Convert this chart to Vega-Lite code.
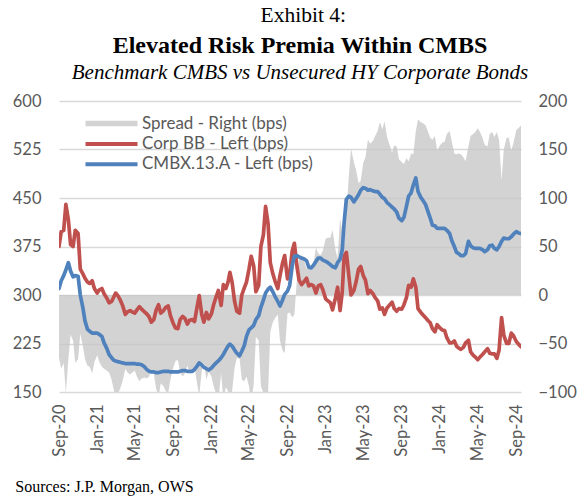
{
  "$schema": "https://vega.github.io/schema/vega-lite/v6.json",
  "background": "white",
  "padding": {"left": 12, "top": 4, "right": 4, "bottom": 2},
  "config": {
    "view": {"stroke": null},
    "font": "Lato",
    "concat": {"spacing": 0},
    "legend": {
      "orient": "none", "legendX": 60, "legendY": 14, "title": null, "padding": 0,
      "symbolType": "M-4.2,0H1", "symbolSize": 400, "labelLimit": 0,
      "labelFont": "Lato", "labelFontSize": 17, "labelColor": "#595959", "labelOffset": 6, "rowPadding": 2.4,
      "symbolStrokeWidth": 4
    }
  },
  "title": {"text": "Sources: J.P. Morgan, OWS", "orient": "bottom", "anchor": "start", "font": "Liberation Serif", "fontSize": 16, "fontWeight": "normal", "color": "#000000", "offset": 18, "dx": 3},
  "vconcat": [
    {
      "title": {"text": "Exhibit 4:", "font": "Liberation Serif", "fontSize": 21.5, "fontWeight": "normal", "color": "#000000", "anchor": "middle", "offset": 8, "dx": 9},
      "vconcat": [
        {
          "width": 462,
          "height": 291,
          "title": {
            "text": "Elevated Risk Premia Within CMBS",
            "subtitle": "Benchmark CMBS vs Unsecured HY Corporate Bonds",
            "font": "Liberation Serif", "fontSize": 24, "fontWeight": "bold", "color": "#000000",
            "subtitleFont": "Liberation Serif", "subtitleFontSize": 21, "subtitleFontStyle": "italic", "subtitleColor": "#000000",
            "subtitlePadding": 4, "anchor": "middle", "offset": 10, "dx": 10
          },
          "data": {"values": [
            {"date":"2020-09-01","cmbx":310,"corp":375,"spread":-65},
            {"date":"2020-09-08","cmbx":322,"corp":398,"spread":-76},
            {"date":"2020-09-16","cmbx":330,"corp":400,"spread":-70},
            {"date":"2020-09-23","cmbx":339,"corp":440,"spread":-101},
            {"date":"2020-10-01","cmbx":350,"corp":416,"spread":-66},
            {"date":"2020-10-08","cmbx":337,"corp":378,"spread":-41},
            {"date":"2020-10-16","cmbx":328,"corp":375,"spread":-47},
            {"date":"2020-10-23","cmbx":330,"corp":400,"spread":-70},
            {"date":"2020-11-01","cmbx":329,"corp":395,"spread":-66},
            {"date":"2020-11-08","cmbx":300,"corp":340,"spread":-40},
            {"date":"2020-11-16","cmbx":281,"corp":333,"spread":-52},
            {"date":"2020-11-23","cmbx":260,"corp":326,"spread":-66},
            {"date":"2020-12-01","cmbx":247,"corp":320,"spread":-73},
            {"date":"2020-12-08","cmbx":244,"corp":318,"spread":-74},
            {"date":"2020-12-16","cmbx":241,"corp":322,"spread":-81},
            {"date":"2020-12-23","cmbx":241,"corp":310,"spread":-69},
            {"date":"2021-01-01","cmbx":241,"corp":303,"spread":-62},
            {"date":"2021-01-08","cmbx":239,"corp":308,"spread":-69},
            {"date":"2021-01-16","cmbx":236,"corp":310,"spread":-74},
            {"date":"2021-01-23","cmbx":226,"corp":302,"spread":-76},
            {"date":"2021-02-01","cmbx":217,"corp":295,"spread":-78},
            {"date":"2021-02-08","cmbx":208,"corp":288,"spread":-80},
            {"date":"2021-02-16","cmbx":203,"corp":290,"spread":-87},
            {"date":"2021-02-23","cmbx":199,"corp":297,"spread":-98},
            {"date":"2021-03-01","cmbx":198,"corp":303,"spread":-105},
            {"date":"2021-03-08","cmbx":197,"corp":299,"spread":-102},
            {"date":"2021-03-16","cmbx":196,"corp":292,"spread":-96},
            {"date":"2021-03-23","cmbx":195,"corp":284,"spread":-89},
            {"date":"2021-04-01","cmbx":194,"corp":270,"spread":-76},
            {"date":"2021-04-08","cmbx":194,"corp":274,"spread":-80},
            {"date":"2021-04-16","cmbx":194,"corp":276,"spread":-82},
            {"date":"2021-04-23","cmbx":194,"corp":274,"spread":-80},
            {"date":"2021-05-01","cmbx":194,"corp":272,"spread":-78},
            {"date":"2021-05-08","cmbx":193,"corp":277,"spread":-84},
            {"date":"2021-05-16","cmbx":193,"corp":282,"spread":-89},
            {"date":"2021-05-23","cmbx":192,"corp":278,"spread":-86},
            {"date":"2021-06-01","cmbx":189,"corp":274,"spread":-85},
            {"date":"2021-06-08","cmbx":185,"corp":271,"spread":-86},
            {"date":"2021-06-16","cmbx":182,"corp":266,"spread":-84},
            {"date":"2021-06-23","cmbx":181,"corp":258,"spread":-77},
            {"date":"2021-07-01","cmbx":181,"corp":262,"spread":-81},
            {"date":"2021-07-08","cmbx":180,"corp":276,"spread":-96},
            {"date":"2021-07-16","cmbx":180,"corp":285,"spread":-105},
            {"date":"2021-07-23","cmbx":181,"corp":272,"spread":-91},
            {"date":"2021-08-01","cmbx":182,"corp":276,"spread":-94},
            {"date":"2021-08-08","cmbx":182,"corp":281,"spread":-99},
            {"date":"2021-08-16","cmbx":182,"corp":283,"spread":-101},
            {"date":"2021-08-23","cmbx":181,"corp":268,"spread":-87},
            {"date":"2021-09-01","cmbx":181,"corp":256,"spread":-75},
            {"date":"2021-09-08","cmbx":181,"corp":249,"spread":-68},
            {"date":"2021-09-16","cmbx":181,"corp":248,"spread":-67},
            {"date":"2021-09-23","cmbx":182,"corp":262,"spread":-80},
            {"date":"2021-10-01","cmbx":183,"corp":267,"spread":-84},
            {"date":"2021-10-08","cmbx":183,"corp":264,"spread":-81},
            {"date":"2021-10-16","cmbx":182,"corp":255,"spread":-73},
            {"date":"2021-10-23","cmbx":182,"corp":261,"spread":-79},
            {"date":"2021-11-01","cmbx":182,"corp":262,"spread":-80},
            {"date":"2021-11-08","cmbx":185,"corp":259,"spread":-74},
            {"date":"2021-11-16","cmbx":190,"corp":281,"spread":-91},
            {"date":"2021-11-23","cmbx":195,"corp":299,"spread":-104},
            {"date":"2021-12-01","cmbx":192,"corp":270,"spread":-78},
            {"date":"2021-12-08","cmbx":188,"corp":258,"spread":-70},
            {"date":"2021-12-16","cmbx":186,"corp":273,"spread":-87},
            {"date":"2021-12-23","cmbx":184,"corp":263,"spread":-79},
            {"date":"2022-01-01","cmbx":187,"corp":271,"spread":-84},
            {"date":"2022-01-08","cmbx":191,"corp":285,"spread":-94},
            {"date":"2022-01-16","cmbx":195,"corp":297,"spread":-102},
            {"date":"2022-01-23","cmbx":198,"corp":307,"spread":-109},
            {"date":"2022-02-01","cmbx":203,"corp":284,"spread":-81},
            {"date":"2022-02-08","cmbx":208,"corp":316,"spread":-108},
            {"date":"2022-02-16","cmbx":215,"corp":310,"spread":-95},
            {"date":"2022-02-23","cmbx":221,"corp":320,"spread":-99},
            {"date":"2022-03-01","cmbx":224,"corp":335,"spread":-111},
            {"date":"2022-03-08","cmbx":221,"corp":320,"spread":-99},
            {"date":"2022-03-16","cmbx":215,"corp":290,"spread":-75},
            {"date":"2022-03-23","cmbx":210,"corp":275,"spread":-65},
            {"date":"2022-04-01","cmbx":206,"corp":272,"spread":-66},
            {"date":"2022-04-08","cmbx":213,"corp":300,"spread":-87},
            {"date":"2022-04-16","cmbx":222,"corp":311,"spread":-89},
            {"date":"2022-04-23","cmbx":236,"corp":320,"spread":-84},
            {"date":"2022-05-01","cmbx":246,"corp":340,"spread":-94},
            {"date":"2022-05-08","cmbx":249,"corp":360,"spread":-111},
            {"date":"2022-05-16","cmbx":253,"corp":345,"spread":-92},
            {"date":"2022-05-23","cmbx":262,"corp":305,"spread":-43},
            {"date":"2022-06-01","cmbx":268,"corp":315,"spread":-47},
            {"date":"2022-06-08","cmbx":281,"corp":375,"spread":-94},
            {"date":"2022-06-16","cmbx":292,"corp":393,"spread":-101},
            {"date":"2022-06-23","cmbx":303,"corp":437,"spread":-134},
            {"date":"2022-07-01","cmbx":309,"corp":410,"spread":-101},
            {"date":"2022-07-08","cmbx":312,"corp":350,"spread":-38},
            {"date":"2022-07-16","cmbx":305,"corp":333,"spread":-28},
            {"date":"2022-07-23","cmbx":298,"corp":322,"spread":-24},
            {"date":"2022-08-01","cmbx":290,"corp":310,"spread":-20},
            {"date":"2022-08-08","cmbx":283,"corp":330,"spread":-47},
            {"date":"2022-08-16","cmbx":292,"corp":349,"spread":-57},
            {"date":"2022-08-23","cmbx":301,"corp":361,"spread":-60},
            {"date":"2022-09-01","cmbx":306,"corp":325,"spread":-19},
            {"date":"2022-09-08","cmbx":315,"corp":333,"spread":-18},
            {"date":"2022-09-16","cmbx":345,"corp":368,"spread":-23},
            {"date":"2022-09-23","cmbx":360,"corp":380,"spread":-20},
            {"date":"2022-10-01","cmbx":361,"corp":345,"spread":16},
            {"date":"2022-10-08","cmbx":359,"corp":323,"spread":36},
            {"date":"2022-10-16","cmbx":357,"corp":316,"spread":41},
            {"date":"2022-10-23","cmbx":356,"corp":320,"spread":36},
            {"date":"2022-11-01","cmbx":353,"corp":326,"spread":27},
            {"date":"2022-11-08","cmbx":343,"corp":314,"spread":29},
            {"date":"2022-11-16","cmbx":342,"corp":316,"spread":26},
            {"date":"2022-11-23","cmbx":346,"corp":314,"spread":32},
            {"date":"2022-12-01","cmbx":352,"corp":303,"spread":49},
            {"date":"2022-12-08","cmbx":357,"corp":314,"spread":43},
            {"date":"2022-12-16","cmbx":357,"corp":316,"spread":41},
            {"date":"2022-12-23","cmbx":354,"corp":308,"spread":46},
            {"date":"2023-01-01","cmbx":352,"corp":294,"spread":58},
            {"date":"2023-01-08","cmbx":350,"corp":291,"spread":59},
            {"date":"2023-01-16","cmbx":347,"corp":288,"spread":59},
            {"date":"2023-01-23","cmbx":344,"corp":277,"spread":67},
            {"date":"2023-02-01","cmbx":342,"corp":295,"spread":47},
            {"date":"2023-02-08","cmbx":350,"corp":312,"spread":38},
            {"date":"2023-02-16","cmbx":355,"corp":276,"spread":79},
            {"date":"2023-02-23","cmbx":370,"corp":305,"spread":65},
            {"date":"2023-03-01","cmbx":412,"corp":360,"spread":52},
            {"date":"2023-03-08","cmbx":448,"corp":366,"spread":82},
            {"date":"2023-03-16","cmbx":453,"corp":330,"spread":123},
            {"date":"2023-03-23","cmbx":451,"corp":300,"spread":151},
            {"date":"2023-04-01","cmbx":444,"corp":307,"spread":137},
            {"date":"2023-04-08","cmbx":449,"corp":320,"spread":129},
            {"date":"2023-04-16","cmbx":455,"corp":340,"spread":115},
            {"date":"2023-04-23","cmbx":462,"corp":344,"spread":118},
            {"date":"2023-05-01","cmbx":466,"corp":330,"spread":136},
            {"date":"2023-05-08","cmbx":465,"corp":323,"spread":142},
            {"date":"2023-05-16","cmbx":462,"corp":302,"spread":160},
            {"date":"2023-05-23","cmbx":463,"corp":307,"spread":156},
            {"date":"2023-06-01","cmbx":461,"corp":302,"spread":159},
            {"date":"2023-06-08","cmbx":460,"corp":296,"spread":164},
            {"date":"2023-06-16","cmbx":460,"corp":291,"spread":169},
            {"date":"2023-06-23","cmbx":456,"corp":278,"spread":178},
            {"date":"2023-07-01","cmbx":451,"corp":280,"spread":171},
            {"date":"2023-07-08","cmbx":449,"corp":270,"spread":179},
            {"date":"2023-07-16","cmbx":443,"corp":280,"spread":163},
            {"date":"2023-07-23","cmbx":440,"corp":284,"spread":156},
            {"date":"2023-08-01","cmbx":436,"corp":289,"spread":147},
            {"date":"2023-08-08","cmbx":433,"corp":279,"spread":154},
            {"date":"2023-08-16","cmbx":428,"corp":275,"spread":153},
            {"date":"2023-08-23","cmbx":419,"corp":279,"spread":140},
            {"date":"2023-09-01","cmbx":415,"corp":278,"spread":137},
            {"date":"2023-09-08","cmbx":420,"corp":285,"spread":135},
            {"date":"2023-09-16","cmbx":437,"corp":296,"spread":141},
            {"date":"2023-09-23","cmbx":453,"corp":315,"spread":138},
            {"date":"2023-10-01","cmbx":458,"corp":312,"spread":146},
            {"date":"2023-10-08","cmbx":470,"corp":325,"spread":145},
            {"date":"2023-10-16","cmbx":481,"corp":312,"spread":169},
            {"date":"2023-10-23","cmbx":460,"corp":279,"spread":181},
            {"date":"2023-11-01","cmbx":451,"corp":273,"spread":178},
            {"date":"2023-11-08","cmbx":446,"corp":269,"spread":177},
            {"date":"2023-11-16","cmbx":440,"corp":265,"spread":175},
            {"date":"2023-11-23","cmbx":430,"corp":261,"spread":169},
            {"date":"2023-12-01","cmbx":419,"corp":257,"spread":162},
            {"date":"2023-12-08","cmbx":408,"corp":248,"spread":160},
            {"date":"2023-12-16","cmbx":407,"corp":243,"spread":164},
            {"date":"2023-12-23","cmbx":403,"corp":254,"spread":149},
            {"date":"2024-01-01","cmbx":403,"corp":249,"spread":154},
            {"date":"2024-01-08","cmbx":403,"corp":246,"spread":157},
            {"date":"2024-01-16","cmbx":403,"corp":245,"spread":158},
            {"date":"2024-01-23","cmbx":400,"corp":234,"spread":166},
            {"date":"2024-02-01","cmbx":395,"corp":226,"spread":169},
            {"date":"2024-02-08","cmbx":384,"corp":226,"spread":158},
            {"date":"2024-02-16","cmbx":375,"corp":229,"spread":146},
            {"date":"2024-02-23","cmbx":366,"corp":221,"spread":145},
            {"date":"2024-03-01","cmbx":364,"corp":218,"spread":146},
            {"date":"2024-03-08","cmbx":361,"corp":216,"spread":145},
            {"date":"2024-03-16","cmbx":361,"corp":219,"spread":142},
            {"date":"2024-03-23","cmbx":364,"corp":226,"spread":138},
            {"date":"2024-04-01","cmbx":383,"corp":230,"spread":153},
            {"date":"2024-04-08","cmbx":376,"corp":212,"spread":164},
            {"date":"2024-04-16","cmbx":373,"corp":207,"spread":166},
            {"date":"2024-04-23","cmbx":372,"corp":204,"spread":168},
            {"date":"2024-05-01","cmbx":372,"corp":200,"spread":172},
            {"date":"2024-05-08","cmbx":372,"corp":204,"spread":168},
            {"date":"2024-05-16","cmbx":370,"corp":208,"spread":162},
            {"date":"2024-05-23","cmbx":367,"corp":212,"spread":155},
            {"date":"2024-06-01","cmbx":370,"corp":217,"spread":153},
            {"date":"2024-06-08","cmbx":376,"corp":210,"spread":166},
            {"date":"2024-06-16","cmbx":377,"corp":209,"spread":168},
            {"date":"2024-06-23","cmbx":372,"corp":209,"spread":163},
            {"date":"2024-07-01","cmbx":370,"corp":202,"spread":168},
            {"date":"2024-07-08","cmbx":375,"corp":215,"spread":160},
            {"date":"2024-07-16","cmbx":383,"corp":265,"spread":118},
            {"date":"2024-07-23","cmbx":388,"corp":238,"spread":150},
            {"date":"2024-08-01","cmbx":387,"corp":225,"spread":162},
            {"date":"2024-08-08","cmbx":387,"corp":225,"spread":162},
            {"date":"2024-08-16","cmbx":390,"corp":241,"spread":149},
            {"date":"2024-08-23","cmbx":394,"corp":237,"spread":157},
            {"date":"2024-09-01","cmbx":398,"corp":228,"spread":170},
            {"date":"2024-09-08","cmbx":396,"corp":224,"spread":172},
            {"date":"2024-09-16","cmbx":395,"corp":220,"spread":175}
          ]},
          "encoding": {
            "x": {
              "field": "date", "type": "temporal", "title": null,
              "scale": {"type": "utc", "domain": [{"year": 2020, "month": 9, "date": 1, "utc": true}, {"year": 2024, "month": 9, "date": 16, "utc": true}]},
              "axis": {
                "values": [
                  {"year": 2020, "month": 9, "date": 1, "utc": true},
                  {"year": 2021, "month": 1, "date": 1, "utc": true},
                  {"year": 2021, "month": 5, "date": 1, "utc": true},
                  {"year": 2021, "month": 9, "date": 1, "utc": true},
                  {"year": 2022, "month": 1, "date": 1, "utc": true},
                  {"year": 2022, "month": 5, "date": 1, "utc": true},
                  {"year": 2022, "month": 9, "date": 1, "utc": true},
                  {"year": 2023, "month": 1, "date": 1, "utc": true},
                  {"year": 2023, "month": 5, "date": 1, "utc": true},
                  {"year": 2023, "month": 9, "date": 1, "utc": true},
                  {"year": 2024, "month": 1, "date": 1, "utc": true},
                  {"year": 2024, "month": 5, "date": 1, "utc": true},
                  {"year": 2024, "month": 9, "date": 1, "utc": true}
                ],
                "format": "%b-%y", "labelAngle": 270, "labelFont": "Lato", "labelFontSize": 16.5, "labelColor": "#595959",
                "labelPadding": 12, "ticks": false, "domain": false, "grid": false, "labelOverlap": false, "labelFlush": false
              }
            }
          },
          "layer": [
            {
              "mark": {"type": "area", "opacity": 0.75, "clip": true},
              "encoding": {
                "y": {
                  "field": "spread", "type": "quantitative", "title": null,
                  "scale": {"domain": [-100, 200], "nice": false, "zero": false},
                  "axis": {"orient": "right", "values": [-100, -50, 0, 50, 100, 150, 200], "grid": false, "ticks": false, "domain": false,
                           "labelFont": "Lato", "labelFontSize": 16.5, "labelColor": "#595959", "labelPadding": 17}
                },
                "y2": {"datum": 0},
                "color": {
                  "datum": "Spread - Right (bps)", "type": "nominal",
                  "scale": {"domain": ["Spread - Right (bps)", "Corp BB - Left (bps)", "CMBX.13.A - Left (bps)"], "range": ["#c4c4c4", "#C0504D", "#4F81BD"]},
                  "legend": {
                    "encode": {"symbols": {"update": {
                      "shape": {"signal": "datum.value === 'Spread - Right (bps)' ? 'M-4.2,-0.27H1V0.27H-4.2Z' : 'M-4.2,0H1'"},
                      "size": {"value": 400},
                      "fill": {"signal": "datum.value === 'Spread - Right (bps)' ? '#c4c4c4' : 'transparent'"},
                      "stroke": {"signal": "datum.value === 'Spread - Right (bps)' ? 'transparent' : scale('color', datum.value)"},
                      "strokeWidth": {"signal": "datum.value === 'Spread - Right (bps)' ? 0 : 4"},
                      "opacity": {"signal": "datum.value === 'Spread - Right (bps)' ? 0.75 : 1"}
                    }}}
                  }
                }
              }
            },
            {
              "layer": [
                {
                  "mark": {"type": "line", "strokeWidth": 3.7, "clip": true, "strokeJoin": "round", "strokeCap": "round"},
                  "encoding": {
                    "y": {
                      "field": "corp", "type": "quantitative", "title": null,
                      "scale": {"domain": [150, 600], "nice": false, "zero": false},
                      "axis": {"orient": "left", "values": [150, 225, 300, 375, 450, 525, 600], "grid": true, "gridColor": "#d9d9d9", "gridWidth": 1.5,
                               "ticks": false, "domain": false, "labelFont": "Lato", "labelFontSize": 16.5, "labelColor": "#595959", "labelPadding": 18}
                    },
                    "color": {
                      "datum": "Corp BB - Left (bps)", "type": "nominal",
                      "legend": {
                        "encode": {"symbols": {"update": {
                          "shape": {"signal": "datum.value === 'Spread - Right (bps)' ? 'M-4.2,-0.27H1V0.27H-4.2Z' : 'M-4.2,0H1'"},
                          "size": {"value": 400},
                          "fill": {"signal": "datum.value === 'Spread - Right (bps)' ? '#c4c4c4' : 'transparent'"},
                          "stroke": {"signal": "datum.value === 'Spread - Right (bps)' ? 'transparent' : scale('color', datum.value)"},
                          "strokeWidth": {"signal": "datum.value === 'Spread - Right (bps)' ? 0 : 4"},
                          "opacity": {"signal": "datum.value === 'Spread - Right (bps)' ? 0.75 : 1"}
                        }}}
                      }
                    }
                  }
                },
                {
                  "mark": {"type": "line", "strokeWidth": 3.7, "clip": true, "strokeJoin": "round", "strokeCap": "round"},
                  "encoding": {
                    "y": {"field": "cmbx", "type": "quantitative", "title": null},
                    "color": {
                      "datum": "CMBX.13.A - Left (bps)", "type": "nominal",
                      "legend": {
                        "encode": {"symbols": {"update": {
                          "shape": {"signal": "datum.value === 'Spread - Right (bps)' ? 'M-4.2,-0.27H1V0.27H-4.2Z' : 'M-4.2,0H1'"},
                          "size": {"value": 400},
                          "fill": {"signal": "datum.value === 'Spread - Right (bps)' ? '#c4c4c4' : 'transparent'"},
                          "stroke": {"signal": "datum.value === 'Spread - Right (bps)' ? 'transparent' : scale('color', datum.value)"},
                          "strokeWidth": {"signal": "datum.value === 'Spread - Right (bps)' ? 0 : 4"},
                          "opacity": {"signal": "datum.value === 'Spread - Right (bps)' ? 0.75 : 1"}
                        }}}
                      }
                    }
                  }
                }
              ]
            }
          ],
          "resolve": {"scale": {"y": "independent"}}
        }
      ]
    }
  ]
}
